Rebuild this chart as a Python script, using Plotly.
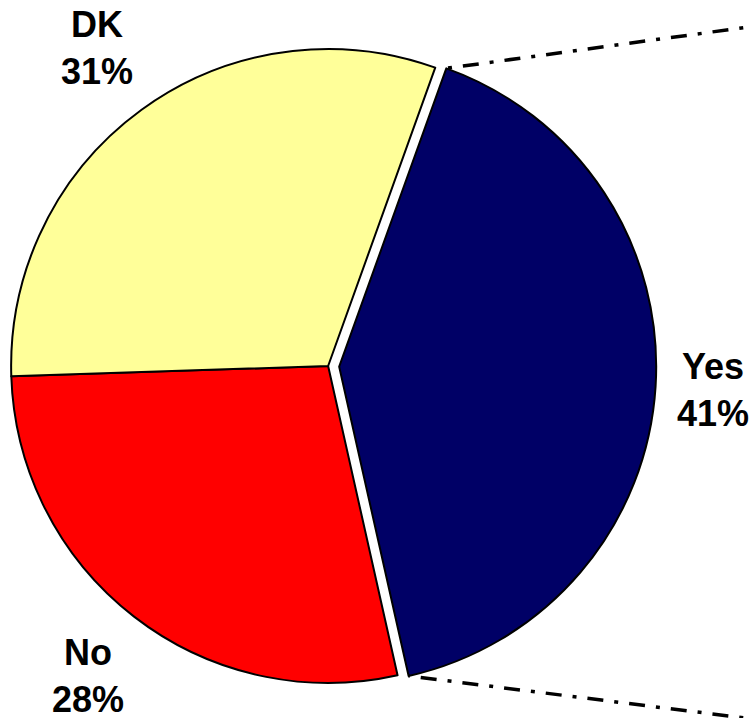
import math
import plotly.graph_objects as go

# ---- data ----
labels = ["Yes", "No", "DK"]
values = [41, 28, 31]
colors = ["#000066", "#FF0000", "#FFFF99"]
pulls = [0.035, 0, 0]
label_radius = [1.18, 1.235, 1.24]   # label distance as a multiple of the pie radius

W, H = 750, 718
rotation = 19.75
dom_x = [0.0, 0.875]
dom_y = [0.0333, 0.9472]

fig = go.Figure(go.Pie(
    labels=labels, values=values, sort=False, direction="clockwise",
    rotation=rotation, pull=pulls, textinfo="none", hoverinfo="label+percent",
    marker=dict(colors=colors, line=dict(color="#000000", width=2)),
    domain=dict(x=dom_x, y=dom_y), showlegend=False,
))

# geometry replicating plotly's pie layout (px)
box_w = W * (dom_x[1] - dom_x[0])
box_h = H * (dom_y[1] - dom_y[0])
r = min(box_w, box_h) / (2 + 2 * max(pulls))
cx = W * (dom_x[0] + dom_x[1]) / 2
cy = H * (1 - (dom_y[0] + dom_y[1]) / 2)
total = sum(values)

def px_to_paper(x, y):
    return x / W, 1 - y / H

angle = rotation
slices = []
for lab, v, p in zip(labels, values, pulls):
    a0 = angle
    a1 = angle + 360 * v / total
    slices.append((lab, v, p, a0, a1))
    angle = a1

annotations = []
shapes = []
for (lab, v, p, a0, a1), k in zip(slices, label_radius):
    mid = math.radians((a0 + a1) / 2)
    ox = cx + p * r * math.sin(mid)
    oy = cy - p * r * math.cos(mid)
    lx = ox + k * r * math.sin(mid)
    ly = oy - k * r * math.cos(mid)
    px, py = px_to_paper(lx, ly)
    pct = round(100 * v / total)
    annotations.append(dict(
        x=px, y=py, xref="paper", yref="paper", showarrow=False,
        xanchor="center", yanchor="middle",
        text=f"<b>{lab}</b><br><b>{pct}%</b>",
        font=dict(family="Arial, Liberation Sans, sans-serif", size=36, color="#000000"),
    ))
    if p > 0:
        # connector lines from the exploded slice corners toward the (off-page) secondary chart
        for a, slope in ((a0, -0.137), (a1, 0.125)):
            ar = math.radians(a)
            x0 = ox + r * math.sin(ar)
            y0 = oy - r * math.cos(ar)
            x1 = W + 20
            y1 = y0 + slope * (x1 - x0)
            X0, Y0 = px_to_paper(x0, y0)
            X1, Y1 = px_to_paper(x1, y1)
            shapes.append(dict(
                type="line", xref="paper", yref="paper", x0=X1, y0=Y1, x1=X0, y1=Y0,
                line=dict(color="#000000", width=3.5, dash="16px,11px,4px,11px"),
            ))

fig.update_layout(
    width=W, height=H, margin=dict(l=0, r=0, t=0, b=0),
    paper_bgcolor="#FFFFFF", plot_bgcolor="#FFFFFF",
    annotations=annotations, shapes=shapes,
)
fig.write_html(
    "out.html",
    config={"displayModeBar": False},
    post_script="document.body.style.margin='0';document.body.style.overflow='hidden';",
)
